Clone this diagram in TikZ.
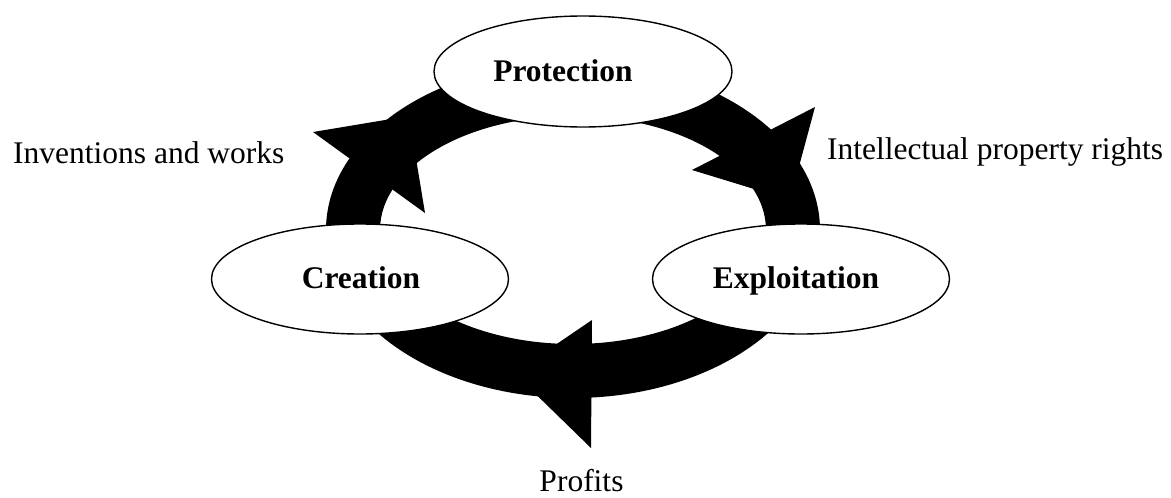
\documentclass[tikz,border=0pt]{standalone}
\usepackage{fontspec}
\setmainfont{Liberation Serif}
\usetikzlibrary{shapes.geometric}
\begin{document}
\begin{tikzpicture}[x=1pt,y=-1pt,
  stage/.style={draw=black, fill=white, ellipse, line width=1.4pt, inner sep=0pt,
                minimum width=297pt, minimum height=110pt},
  stagetext/.style={inner sep=0pt, anchor=base, font=\fontsize{31.5pt}{36pt}\selectfont\bfseries},
  flowtext/.style={inner sep=0pt, font=\fontsize{31.5pt}{36pt}\selectfont},
  ring/.style={fill=black, even odd rule},
  head/.style={fill=black}]
\useasboundingbox (0,0) rectangle (1171,498);
% cycle ring
\fill[ring] (573,230) ellipse [x radius=247pt, y radius=168pt]
            (573,230) ellipse [x radius=193pt, y radius=114pt];
% arrowheads
\coordinate (h1tip) at (409,116);
\coordinate (h1a) at (313,132);
\coordinate (h1b) at (425,213);
\fill[head] (h1tip) -- (h1a) -- (h1b) -- cycle;
\coordinate (h2tip) at (790,200);
\coordinate (h2a) at (815,107);
\coordinate (h2b) at (692,170);
\fill[head] (h2tip) -- (h2a) -- (h2b) -- cycle;
\coordinate (h3tip) at (514,373);
\coordinate (h3a) at (592,320);
\coordinate (h3b) at (591,448);
\fill[head] (h3tip) -- (h3a) -- (h3b) -- cycle;
% stages
\node[stage, minimum width=298pt, minimum height=111pt] (prot) at (583,71.5) {};
\node[stage] (crea) at (360,279) {};
\node[stage] (expl) at (801,279) {};
\node[stagetext] (protT) at (563,81.5) {Protection};
\node[stagetext] (creaT) at (361,288) {Creation};
\node[stagetext] (explT) at (796,288) {Exploitation};
% flow labels
\node[flowtext, anchor=base west] (inv) at (13,163) {Inventions and works};
\node[flowtext, anchor=base west] (ipr) at (827,159) {Intellectual property rights};
\node[flowtext, anchor=base] (prof) at (581.5,491) {Profits};
\end{tikzpicture}
\end{document}
